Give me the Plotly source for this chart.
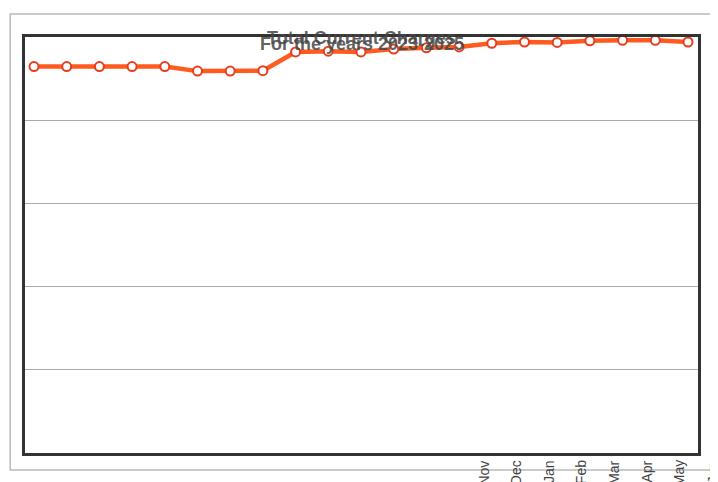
import plotly.graph_objects as go

# ---- data ----
months = ["Sep", "Oct", "Nov", "Dec", "Jan", "Feb", "Mar", "Apr", "May", "Jun", "Jul",
          "Aug", "Sep", "Oct", "Nov", "Dec", "Jan", "Feb", "Mar", "Apr", "May"]
charges = [92.9, 92.9, 92.9, 92.9, 92.9, 91.8, 91.8, 91.9, 96.4, 96.6, 96.4,
           97.1, 97.4, 97.6, 98.5, 98.8, 98.7, 99.1, 99.2, 99.2, 98.8]
# visible (scan-cropped) tick labels and their category offsets
label_text = ["Nov", "Dec", "Jan", "Feb", "Mar", "Apr", "May", "Jun"]
label_index = [14, 15, 16, 17, 18, 19, 20, 21]
title_lines = ["Total Current Charges", "For the years 2023-2025"]
title_y = [0.997, 0.984]

x_idx = list(range(len(months)))
x_range = [-0.275, 20.306]

fig = go.Figure()
fig.add_trace(go.Scatter(
    x=x_idx, y=charges, mode="lines+markers",
    line=dict(color="#FF5A1F", width=4.5),
    marker=dict(size=9, color="white", line=dict(color="#E63E1E", width=2)),
    hovertext=months, showlegend=False, cliponaxis=False,
))

annotations = []
for t, ty in zip(title_lines, title_y):
    annotations.append(dict(
        text="<b>%s</b>" % t, x=0.5, y=ty, xref="paper", yref="paper",
        xanchor="center", yanchor="middle", showarrow=False,
        font=dict(family="Liberation Sans", size=18, color="rgba(70,70,70,0.85)"),
    ))
span = x_range[1] - x_range[0]
for lab, i in zip(label_text, label_index):
    annotations.append(dict(
        text=lab, x=(i - 0.25 - x_range[0]) / span, y=-0.013, xref="paper", yref="paper",
        xanchor="center", yanchor="top", showarrow=False, textangle=-90,
        font=dict(family="Liberation Sans", size=14, color="#444"),
    ))

fig.update_layout(
    width=718, height=482,
    margin=dict(l=17, r=28, t=29, b=37),
    paper_bgcolor="white", plot_bgcolor="white",
    annotations=annotations,
    shapes=[dict(type="rect", xref="paper", yref="paper",
                 x0=-0.022, x1=1.06, y0=-0.041, y1=1.055,
                 line=dict(color="#bbbbbb", width=1.5), layer="below")],
    xaxis=dict(range=x_range, showticklabels=False, showgrid=False,
               zeroline=False, showline=True, mirror=True,
               linecolor="#333", linewidth=2.5, ticks=""),
    yaxis=dict(range=[0, 100], dtick=20, showticklabels=False, showgrid=True,
               gridcolor="#aaaaaa", gridwidth=1, zeroline=False,
               showline=True, mirror=True, linecolor="#333", linewidth=2.5, ticks=""),
)

fig.write_html("out.html")
